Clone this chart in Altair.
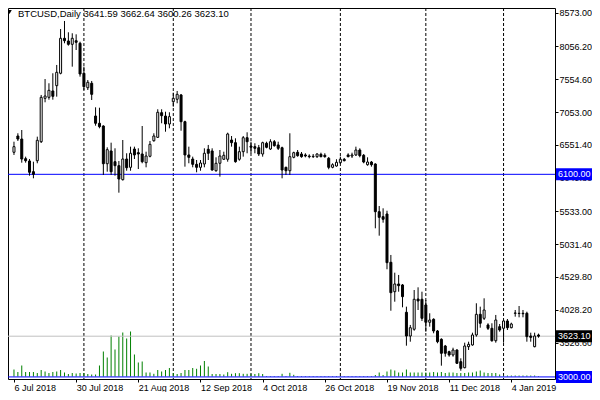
import altair as alt
import pandas as pd

symbol = "BTCUSD,Daily"

opens = [6437, 6686, 6640, 6339, 6304, 6140, 6308, 6599, 7263, 7278,
         7375, 7456, 7646, 8181, 8140, 8089, 8144, 8105, 7646, 7425,
         7493, 6992, 6881, 6839, 6262, 6457, 6293, 6232, 6018, 6334,
         6207, 6487, 6431, 6411, 6278, 6376, 6614, 6666, 7043, 6992,
         6870, 7211, 7248, 7314, 6905, 6396, 6334, 6253, 6207, 6258,
         6483, 6457, 6155, 6269, 6330, 6330, 6625, 6584, 6330, 6446,
         6660, 6533, 6523, 6507, 6411, 6575, 6487, 6599, 6549, 6507,
         6207, 6155, 6360, 6437, 6411, 6396, 6380, 6370, 6370, 6406,
         6391, 6345, 6207, 6227, 6278, 6330, 6396, 6380, 6396, 6472,
         6391, 6247, 6288, 6258, 5528, 5452, 5493, 4754, 4304, 4422,
         4407, 3989, 3626, 3729, 4192, 4188, 4101, 3836, 3882, 3703,
         3576, 3473, 3386, 3336, 3412, 3233, 3141, 3463, 3489, 3642,
         3958, 3897, 3795, 3744, 3554, 3769, 3744, 3856, 3753, 3974,
         3974, 3974, 3974, 3626, 3463, 3641.59]
highs = [6599, 6728, 6778, 6370, 6334, 6293, 6676, 7314, 7558, 7493,
         7646, 7773, 8323, 8446, 8273, 8258, 8242, 8129, 7747, 7543,
         7528, 7125, 7119, 6850, 6513, 6584, 6498, 6304, 6625, 6422,
         6523, 6523, 6498, 6839, 6446, 6610, 6728, 7095, 7095, 7058,
         7049, 7349, 7375, 7329, 6920, 6523, 6370, 6319, 6319, 6498,
         6549, 6498, 6360, 6472, 6446, 6737, 6686, 6651, 6523, 6686,
         6743, 6599, 6575, 6549, 6599, 6599, 6636, 6625, 6599, 6523,
         6217, 6728, 6446, 6472, 6441, 6422, 6406, 6411, 6422, 6431,
         6422, 6365, 6269, 6330, 6370, 6350, 6422, 6431, 6523, 6498,
         6411, 6360, 6304, 6269, 5615, 5580, 5543, 4866, 4595, 4560,
         4422, 4075, 3795, 4330, 4371, 4304, 4177, 3974, 3897, 3718,
         3591, 3489, 3401, 3447, 3423, 3285, 3524, 3539, 3677, 4127,
         4075, 4203, 3821, 3821, 3948, 3810, 3871, 3886, 3830, 4024,
         4085, 4024, 3998, 3677, 3677, 3662.64]
lows = [6396, 6610, 6278, 6278, 6079, 6039, 6269, 6579, 7202, 7242,
        7242, 7288, 7630, 8105, 8068, 7747, 8002, 7594, 7390, 7390,
        7237, 6844, 6804, 6090, 6140, 6090, 6079, 5819, 6005, 6155,
        6155, 6334, 6181, 6269, 6207, 6360, 6599, 6656, 6881, 6752,
        6804, 7135, 7187, 6767, 6217, 6269, 6207, 6131, 6155, 6207,
        6319, 6155, 6140, 6064, 6319, 6293, 6523, 6278, 6308, 6370,
        6422, 6422, 6422, 6380, 6370, 6498, 6472, 6523, 6472, 6039,
        6090, 6090, 6345, 6370, 6354, 6360, 6345, 6350, 6350, 6360,
        6354, 6177, 6192, 6217, 6258, 6299, 6360, 6350, 6380, 6360,
        6269, 6232, 6217, 5274, 5161, 5360, 4647, 4013, 4151, 4304,
        4065, 3478, 3539, 3707, 4024, 3856, 3692, 3769, 3668, 3515,
        3172, 3310, 3310, 3310, 3198, 3095, 3132, 3412, 3478, 3616,
        3753, 3871, 3718, 3539, 3524, 3692, 3524, 3718, 3744, 3922,
        3912, 3912, 3539, 3539, 3453, 3600.26]
closes = [6523, 6640, 6334, 6308, 6131, 6100, 6620, 7278, 7298, 7385,
          7294, 7661, 8181, 8144, 8089, 8181, 8120, 7635, 7441, 7508,
          7324, 6881, 6829, 6262, 6477, 6140, 6232, 6028, 6334, 6201,
          6422, 6396, 6411, 6293, 6380, 6559, 6686, 7049, 6997, 6870,
          6982, 7263, 7324, 6905, 6396, 6360, 6253, 6207, 6273, 6422,
          6422, 6166, 6269, 6380, 6391, 6717, 6584, 6293, 6446, 6660,
          6599, 6513, 6498, 6411, 6584, 6513, 6599, 6538, 6498, 6166,
          6155, 6370, 6431, 6385, 6370, 6380, 6370, 6376, 6411, 6370,
          6370, 6207, 6247, 6284, 6330, 6308, 6370, 6396, 6472, 6385,
          6288, 6288, 6247, 5528, 5442, 5412, 4748, 4289, 4422, 4396,
          4228, 3626, 3753, 4188, 4162, 3897, 3836, 3871, 3703, 3539,
          3362, 3362, 3336, 3412, 3209, 3132, 3473, 3499, 3642, 3958,
          3821, 4024, 3744, 3554, 3871, 3718, 3856, 3753, 3810, 3978,
          3970, 3967, 3616, 3606, 3626, 3623.10]
volumes = [7000, 4500, 11000, 4500, 4500, 4500, 3500, 6500, 5000, 3500,
           4500, 5000, 6500, 4000, 2500, 3500, 3000, 3500, 3500, 2500,
           2000, 2000, 11000, 25000, 19000, 41000, 27000, 40000, 44000, 38000,
           45000, 22000, 14000, 15000, 4000, 4000, 2700, 6500, 5000, 6500,
           8500, 3500, 2500, 3500, 6500, 6500, 8500, 7700, 11000, 15500,
           10000, 2500, 2500, 2500, 2000, 4300, 2700, 3300, 3300, 2700,
           2700, 2700, 2500, 3300, 2500, 500, 500, 500, 500, 2700,
           500, 3700, 1700, 500, 500, 500, 500, 500, 500, 500,
           500, 500, 500, 500, 500, 500, 500, 500, 500, 500,
           500, 500, 500, 1500, 4000, 1500, 5000, 7000, 6000, 4000,
           4000, 7000, 4000, 4000, 4000, 4000, 4000, 4000, 4500, 4000,
           4500, 3500, 4000, 4000, 3500, 3500, 3500, 4000, 4000, 5000,
           6000, 4000, 3500, 3500, 3500, 2000, 1000, 1000, 1000, 1000,
           1000, 1000, 1000, 1000, 1000, 500]

tick_bars = [0, 16, 32, 48, 64, 80, 96, 112, 128]
tick_labels = ["6 Jul 2018", "30 Jul 2018", "21 Aug 2018", "12 Sep 2018",
               "4 Oct 2018", "26 Oct 2018", "19 Nov 2018", "11 Dec 2018", "4 Jan 2019"]
month_start_bars = [18, 41, 61, 84, 106, 126]
price_ticks = [8573.00, 8056.20, 7554.60, 7053.00, 6551.40, 6049.80,
               5533.00, 5031.40, 4529.80, 4028.20, 3526.60]
level_prices = [3623.10, 6100.00, 3000.00]
level_colors = ["#C0C0C0", "#0000FF", "#0000FF"]
level_box_colors = ["#000000", "#0000FF", "#0000FF"]

FONT = "Liberation Sans"
FS = 9
FS_HEAD = 9.5
W, H = 547, 371
PAD_R, PAD_B = 37, 13

n = len(opens)
bars = pd.DataFrame({"i": list(range(n)), "open": opens, "high": highs,
                     "low": lows, "close": closes, "vol": volumes})
months = pd.DataFrame({"i": month_start_bars})
levels = pd.DataFrame({"price": level_prices, "color": level_colors,
                       "box": level_box_colors,
                       "label": [f"{p:.2f}" for p in level_prices]})
header = pd.DataFrame({"t": [f"{symbol}  {opens[-1]:.2f} {highs[-1]:.2f} {lows[-1]:.2f} {closes[-1]:.2f}"]})

xs = alt.Scale(domain=[-0.253, 137.955], nice=False, zero=False)
ys = alt.Scale(domain=[2968.3, 8644.6], nice=False, zero=False)
vs = alt.Scale(domain=[-2500, 368500], nice=False, zero=False)

label_expr = " : ".join(f"datum.value == {b} ? '{l}'" for b, l in zip(tick_bars, tick_labels)) + " : ''"
xaxis = alt.Axis(values=tick_bars, labelExpr=label_expr, labelAlign="left",
                 tickSize=3, labelPadding=1, domain=False, grid=False,
                 tickColor="black", labelColor="black", labelFont=FONT, labelFontSize=FS,
                 labelFlush=False, labelOverlap=False, labelBound=False, title=None)
X = alt.X("i:Q", scale=xs, axis=xaxis)

yaxis = alt.Axis(orient="right", values=price_ticks, format=".2f", tickSize=3, labelPadding=1,
                 domain=False, grid=False, tickColor="black", labelColor="black",
                 labelFont=FONT, labelFontSize=FS, title=None, labelOverlap=False,
                 labelFlush=False, labelBound=False)


def Yp(field):
    return alt.Y(field, scale=ys, axis=yaxis, title=None)


grid = alt.Chart(months).mark_rule(color="black", strokeDash=[3, 2], strokeWidth=1).encode(x=X)

vol = alt.Chart(bars).mark_rule(color="#008000", strokeWidth=1).encode(
    x=X, y=alt.Y("vol:Q", scale=vs, axis=None), y2=alt.datum(0))

hlines = alt.Chart(levels).mark_rule(strokeWidth=1).encode(
    y=Yp("price:Q"), color=alt.Color("color:N", scale=None))

wicks = alt.Chart(bars).mark_rule(color="black", strokeWidth=1).encode(
    x=X, y=Yp("low:Q"), y2="high:Q")

bodies = alt.Chart(bars).mark_bar(size=2, stroke="black", strokeWidth=1).encode(
    x=X, y=Yp("open:Q"), y2="close:Q",
    fill=alt.when("datum.close > datum.open").then(alt.value("white")).otherwise(alt.value("black")))

boxes = alt.Chart(levels).mark_rect(yOffset=-6, y2Offset=6).encode(
    x=alt.value(W + 1), x2=alt.value(W + PAD_R),
    y=Yp("price:Q"), y2="price:Q",
    fill=alt.Color("box:N", scale=None))

box_text = alt.Chart(levels).mark_text(align="left", baseline="middle", color="white",
                                       font=FONT, fontSize=FS).encode(
    x=alt.value(W + 3), y=Yp("price:Q"), text="label:N")

head_tri = alt.Chart(header).mark_point(shape="triangle-down", filled=True, color="black",
                                        size=20, opacity=1).encode(
    x=alt.value(1.5), y=alt.value(4))
head_text = alt.Chart(header).mark_text(align="left", baseline="middle", color="black",
                                        font=FONT, fontSize=FS_HEAD).encode(
    x=alt.value(10), y=alt.value(5.5), text="t:N")

price = alt.layer(hlines, wicks, bodies, boxes, box_text)

chart = alt.layer(grid, vol, price, head_tri, head_text).resolve_scale(y="independent").properties(
    width=W, height=H, background="white",
    padding={"left": 0, "top": 0, "right": PAD_R, "bottom": PAD_B},
    autosize=alt.AutoSizeParams(type="none"),
).configure_view(stroke="black", strokeWidth=1)

chart.save("out.html", embed_options={"renderer": "svg", "actions": False})
